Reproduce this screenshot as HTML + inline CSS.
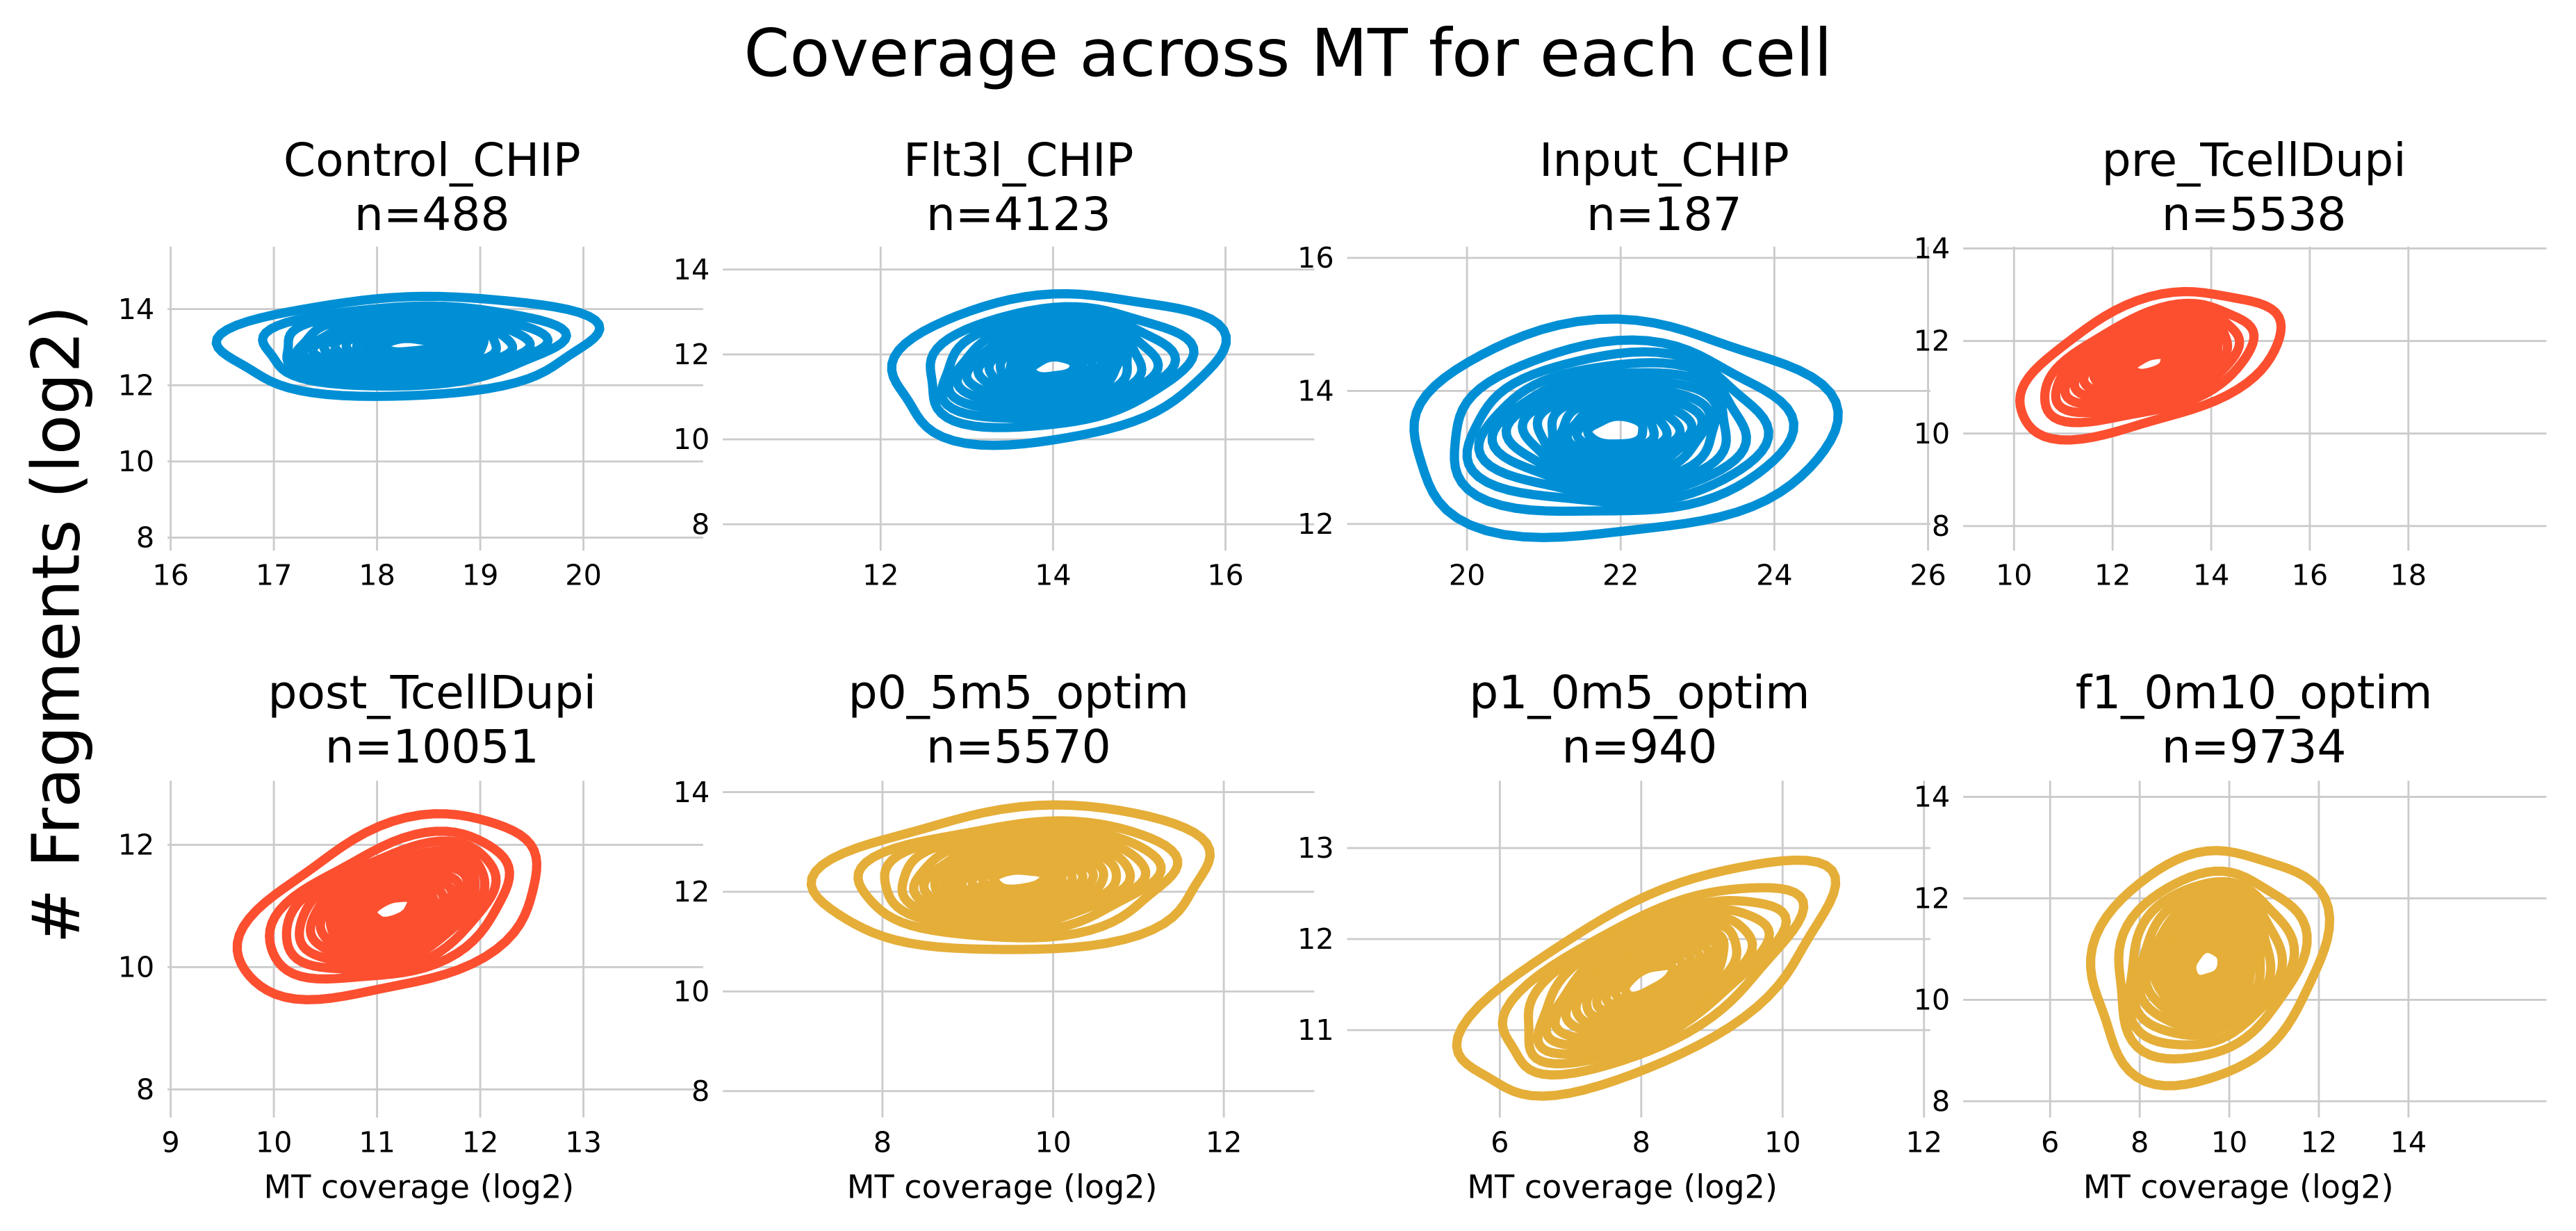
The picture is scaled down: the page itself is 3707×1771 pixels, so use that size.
<!DOCTYPE html>
<html><head><meta charset="utf-8"><style>
html,body{margin:0;padding:0;background:#fff;}
svg{display:block;}
text{font-family:"DejaVu Sans","Liberation Sans",sans-serif;fill:#000;}
</style></head><body>
<svg id="chart" width="3707" height="1771" viewBox="0 0 1568 749" xmlns="http://www.w3.org/2000/svg">
<text x="784" y="46" font-size="40" text-anchor="middle">Coverage across MT for each cell</text>
<text x="0" y="0" font-size="40" text-anchor="middle" transform="translate(48,380) rotate(-90)"># Fragments (log2)</text>
<g id="panels"></g>
</svg>
<script>
const names = ["Control_CHIP","Flt3l_CHIP","Input_CHIP","pre_TcellDupi","post_TcellDupi","p0_5m5_optim","p1_0m5_optim","f1_0m10_optim"];
const counts = [488,4123,187,5538,10051,5570,940,9734];
const colorIdx = [0,0,0,1,1,2,2,2];
const xTicks = [[16,17,18,19,20],[12,14,16],[20,22,24,26],[10,12,14,16,18],[9,10,11,12,13],[8,10,12],[6,8,10,12],[6,8,10,12,14]];
const yTicks = [[8,10,12,14],[8,10,12,14],[12,14,16],[8,10,12,14],[8,10,12],[8,10,12,14],[11,12,13],[8,10,12,14]];
const xLims = [[15.97,21.16],[10.17,17.03],[18.44,26.03],[8.97,20.8],[8.97,14.16],[6.13,13.06],[3.84,12.09],[4.06,17.08]];
const yLims = [[7.66,15.64],[7.38,14.54],[11.6,16.17],[7.47,14.04],[7.54,13.05],[7.47,14.23],[10.04,13.74],[7.68,14.32]];
const centersX = [18.3,14.0,21.95,12.75,11.15,9.6,8.1,9.5];
const centersY = [13.05,11.7,13.4,11.5,10.95,12.25,11.55,10.7];
const spreadX = [1.8,1.9,2.75,2.65,1.45,2.3,2.6,2.6];
const spreadY = [1.3,1.72,1.6,1.35,1.35,1.43,0.95,2.25];
const slopes = [0.1,0.2,0.05,0.3,0.45,0.1,0.33,0.18];
const levels = [1.0,0.8,0.7,0.62,0.55,0.49,0.43,0.38,0.33,0.28,0.23,0.18,0.13];

const palette = ["#008fd5","#fc4f30","#e5ae38"];
const boxX = [[102,428],[440,800],[820,1175],[1195,1550]];
const boxY = [[150,335],[475,680]];
const titleX = [263,620,1013,1372,263,620,998,1372];
const NS = "http://www.w3.org/2000/svg";
const root = document.getElementById("panels");
function mk(tag, attrs){const e=document.createElementNS(NS,tag);for(const k in attrs)e.setAttribute(k,attrs[k]);return e;}

for(let p=0;p<8;p++){
  const col=p%4,row=Math.floor(p/4);
  const [L,R]=boxX[col],[T,B]=boxY[row];
  const sx=v=>L+(v-xLims[p][0])/(xLims[p][1]-xLims[p][0])*(R-L);
  const sy=v=>B-(v-yLims[p][0])/(yLims[p][1]-yLims[p][0])*(B-T);
  const g=mk("g",{});
  
  
  root.appendChild(g);
  xTicks[p].forEach(t=>{
    const ln=mk("line",{x1:sx(t),x2:sx(t),y1:T,y2:B,stroke:"#cbcbcb","stroke-width":1.2});
    
    
    g.appendChild(ln);
    const tx=mk("text",{x:sx(t),y:B+21,"font-size":17.5,"text-anchor":"middle"});
    
    
    tx.textContent=t;g.appendChild(tx);
  });
  yTicks[p].forEach(t=>{
    const ln=mk("line",{x1:L,x2:R,y1:sy(t),y2:sy(t),stroke:"#cbcbcb","stroke-width":1.2});
    
    
    g.appendChild(ln);
    const tx=mk("text",{x:L-8,y:sy(t)+6,"font-size":17.5,"text-anchor":"end"});
    
    
    tx.textContent=t;g.appendChild(tx);
  });
  levels.forEach((lv,i)=>{
    let d="";
    for(let k=0;k<=72;k++){
      const a=k/72*2*Math.PI;
      const wob=1+0.05*Math.sin(3*a+p+i*0.7)+0.03*Math.sin(5*a+i);
      const dx=spreadX[p]*lv*Math.cos(a)*wob;
      const dy=spreadY[p]*lv*Math.sin(a)*wob+slopes[p]*dx;
      d+=(k?"L":"M")+sx(centersX[p]+dx).toFixed(2)+","+sy(centersY[p]+dy).toFixed(2);
    }
    const path=mk("path",{d:d+"Z",fill:"none",stroke:palette[colorIdx[p]],"stroke-width":5.6,"stroke-linejoin":"round"});
    
    
    g.appendChild(path);
  });
  const ty=row===0?107:431;
  const t1=mk("text",{x:titleX[p],y:ty,"font-size":28,"text-anchor":"middle"});
  
  
  t1.textContent=names[p];g.appendChild(t1);
  const t2=mk("text",{x:titleX[p],y:ty+33,"font-size":28,"text-anchor":"middle"});
  
  
  t2.textContent="n="+counts[p];g.appendChild(t2);
  if(row===1){
    const xl=mk("text",{x:(L+R)/2-10,y:729,"font-size":19.5,"text-anchor":"middle"});
    
    
    xl.textContent="MT coverage (log2)";g.appendChild(xl);
  }
}
</script>
</body></html>
